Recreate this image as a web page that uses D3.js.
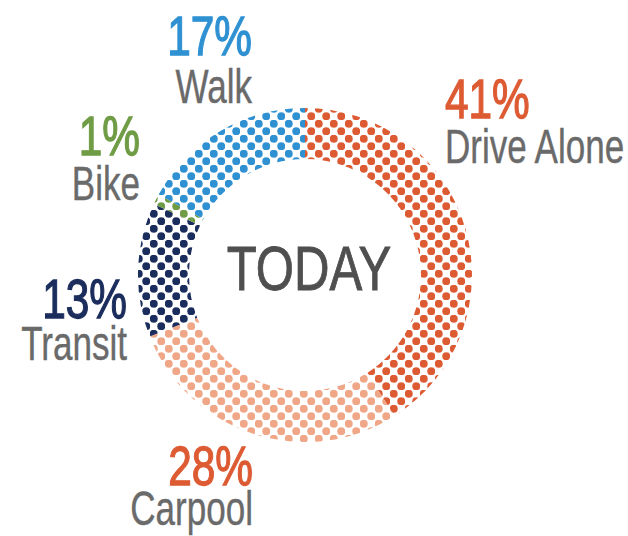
<!DOCTYPE html>
<html>
<head>
<meta charset="utf-8">
<script src="https://cdn.jsdelivr.net/npm/d3@7"></script>
<style>
  html, body { margin: 0; padding: 0; background: #fff; }
  svg { display: block; }
  text { font-family: "Liberation Sans", Arimo, Arial, sans-serif; }
</style>
</head>
<body>
<svg id="chart" width="628" height="536"></svg>
<script>
// Commute mode share
const categories = ["Drive Alone", "Carpool", "Transit", "Bike", "Walk"];
const shares     = [41, 28, 13, 1, 17];
const dotColors  = ["#DD5B33", "#F0A787", "#1B2D5C", "#6F9C45", "#2F91D2"];
const pctColors  = ["#DD5B33", "#DD5B33", "#1B2D5C", "#6F9C45", "#2F91D2"];
const pctLabels  = ["41%", "28%", "13%", "1%", "17%"];
const centerTitle = "TODAY";

// Label placement around the ring (relative to the ring centre)
const labelLayout = {
  "Drive Alone": { dx: 140,  pctY: -157, nameY: -112, anchor: "start" },
  "Carpool":     { dx: -52,  pctY: 210,  nameY: 250,  anchor: "end" },
  "Transit":     { dx: -178, pctY: 43,   nameY: 85,   anchor: "end" },
  "Bike":        { dx: -165, pctY: -120, nameY: -75,  anchor: "end" },
  "Walk":        { dx: -53,  pctY: -220, nameY: -172, anchor: "end" }
};

const svg = d3.select("#chart");
const cx = 305, cy = 275;
const outerR = 167, innerR = 116;

// Dotted fills, aligned to the page so the dot grid runs unbroken across segments
const defs = svg.append("defs");
const period = 15, dotR = 4;
categories.forEach((c, i) => {
  const p = defs.append("pattern")
    .attr("id", "dots" + i)
    .attr("patternUnits", "userSpaceOnUse")
    .attr("patternTransform", `translate(${-cx},${-cy})`)
    .attr("width", period).attr("height", period);
  p.append("circle").attr("cx", period / 4).attr("cy", period / 4).attr("r", dotR).attr("fill", dotColors[i]);
  p.append("circle").attr("cx", period * 3 / 4).attr("cy", period * 3 / 4).attr("r", dotR).attr("fill", dotColors[i]);
});

const pie = d3.pie().sort(null).value(d => d.value);
const arcs = pie(categories.map((c, i) => ({ name: c, value: shares[i], idx: i })));
const arc = d3.arc().innerRadius(innerR).outerRadius(outerR);

svg.append("g")
  .attr("transform", `translate(${cx},${cy})`)
  .selectAll("path")
  .data(arcs)
  .join("path")
  .attr("d", arc)
  .attr("fill", d => `url(#dots${d.data.idx})`);

// Centre title (a hairline stroke gives a medium weight)
svg.append("text")
  .attr("transform", `translate(${cx + 4},${cy + 15}) scale(0.78,1)`)
  .attr("text-anchor", "middle")
  .attr("font-size", 63)
  .attr("fill", "#4F4F4F")
  .attr("stroke", "#4F4F4F")
  .attr("stroke-width", 0.9)
  .text(centerTitle);

// Category labels
const labels = svg.append("g");
categories.forEach((c, i) => {
  const L = labelLayout[c];
  labels.append("text")
    .attr("transform", `translate(${cx + L.dx},${cy + L.pctY}) scale(0.77,1)`)
    .attr("text-anchor", L.anchor)
    .attr("font-size", 55)
    .attr("fill", pctColors[i])
    .attr("stroke", pctColors[i])
    .attr("stroke-width", 1.3)
    .text(pctLabels[i]);
  labels.append("text")
    .attr("transform", `translate(${cx + L.dx},${cy + L.nameY}) scale(0.73,1)`)
    .attr("text-anchor", L.anchor)
    .attr("font-size", 48)
    .attr("fill", "#6A6A6A")
    .attr("stroke", "#6A6A6A")
    .attr("stroke-width", 0.4)
    .text(c);
});
</script>
</body>
</html>
